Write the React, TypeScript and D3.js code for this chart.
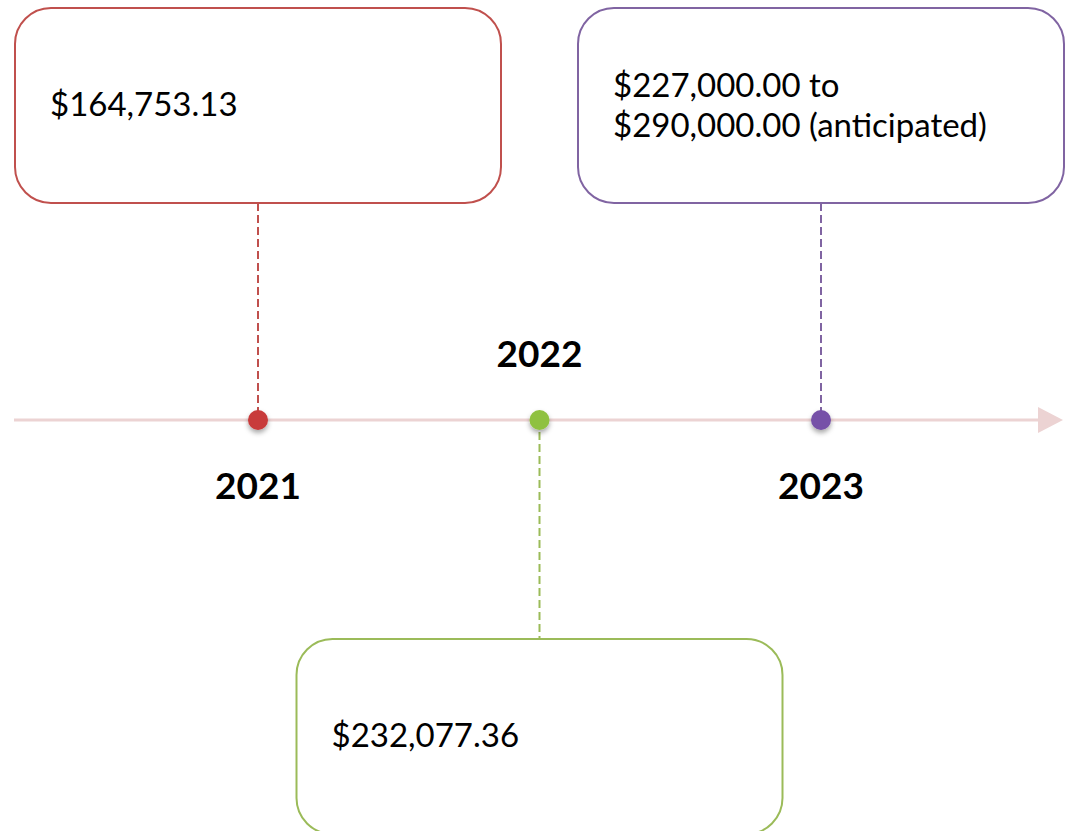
import React from "react";
import * as d3 from "d3";

const years = [2021, 2022, 2023];
const valueLines: string[][] = [
  ["$164,753.13"],
  ["$232,077.36"],
  ["$227,000.00 to", "$290,000.00 (anticipated)"],
];
const placement = ["above", "below", "above"];
const strokeColors = ["#c0504d", "#9bbb59", "#8064a2"];
const dotColors = ["#c83a3a", "#8fc13f", "#7651a8"];

const W = 1070;
const H = 831;
const axisY = 420;
const boxW = 486;
const boxH = 195;

export default function App() {
  const x = d3.scaleLinear().domain([2021, 2023]).range([258, 821]);
  const arrowStart = 14;
  const arrowEnd = 1038;
  const arrowTip = 1063;

  return (
    <svg
      width={W}
      height={H}
      style={{ position: "absolute", left: 0, top: 0, background: "#fff" }}
      fontFamily="Lato, 'Open Sans', sans-serif"
    >
      <defs>
        <filter id="shadow" x="-100%" y="-100%" width="300%" height="300%">
          <feDropShadow dx="0" dy="3" stdDeviation="2.5" floodColor="#000" floodOpacity="0.35" />
        </filter>
      </defs>
      {/* timeline */}
      <line x1={arrowStart} x2={arrowEnd} y1={axisY} y2={axisY} stroke="#ecd3d3" strokeWidth={3} />
      <path
        d={`M${arrowEnd},${axisY - 13} L${arrowTip},${axisY} L${arrowEnd},${axisY + 13} Z`}
        fill="#ecd3d3"
      />
      {years.map((yr, i) => {
        const cx = x(yr);
        const above = placement[i] === "above";
        const boxTop = above ? 8 : 639;
        const boxBottom = boxTop + boxH;
        const lineY1 = above ? boxBottom : axisY;
        const lineY2 = above ? axisY : boxTop;
        const lines = valueLines[i];
        const firstBaseline = above
          ? lines.length > 1
            ? 97
            : 116
          : 747;
        return (
          <g key={yr}>
            <line
              x1={cx}
              x2={cx}
              y1={lineY1}
              y2={lineY2}
              stroke={strokeColors[i]}
              strokeWidth={2}
              strokeDasharray="8 4"
            />
            <rect
              x={cx - boxW / 2}
              y={boxTop}
              width={boxW}
              height={boxH}
              rx={36}
              ry={36}
              fill="#fff"
              stroke={strokeColors[i]}
              strokeWidth={2}
            />
            {lines.map((t, j) => (
              <text
                key={j}
                x={cx - boxW / 2 + 35}
                y={firstBaseline + j * 40}
                fontSize={33}
                fill="#000"
              >
                {t}
              </text>
            ))}
            <circle cx={cx} cy={axisY} r={10} fill={dotColors[i]} filter="url(#shadow)" />
            <text
              x={cx}
              y={above ? 499 : 367}
              textAnchor="middle"
              fontSize={37}
              fontWeight="bold"
              fill="#000"
            >
              {yr}
            </text>
          </g>
        );
      })}
    </svg>
  );
}
